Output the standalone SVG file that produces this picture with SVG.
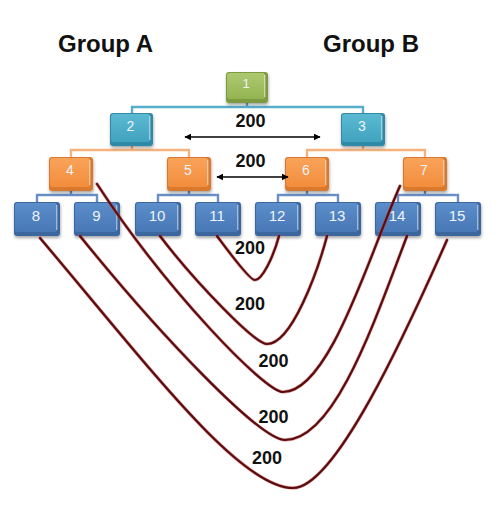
<svg xmlns="http://www.w3.org/2000/svg" xmlns:xlink="http://www.w3.org/1999/xlink" width="502" height="520" viewBox="0 0 502 520">
<style>
  .title{font-family:"Liberation Sans",Arial,sans-serif;font-weight:bold;font-size:24px;fill:#111}
  .dist{font-family:"Liberation Sans",Arial,sans-serif;font-weight:bold;font-size:18px;fill:#111;text-anchor:middle}
  .num{font-family:"Liberation Sans",Arial,sans-serif;font-size:14px;fill:#eef3fa;text-anchor:middle}
  .tl{fill:none;stroke-width:2.4;stroke-linecap:square}
  .teal-l{stroke:#57aecb}
  .orange-l{stroke:#f5b27c}
  .blue-l{stroke:#6890c6}
  .arrow{fill:none;stroke:#000;stroke-width:1.3;marker-start:url(#ah);marker-end:url(#ah)}
  .c-out{fill:none;stroke:#c94a4a;stroke-width:3.4;stroke-linecap:round;opacity:.55}
  .c-in{fill:none;stroke:#5a0c0e;stroke-width:2.2;stroke-linecap:round}
  .hl{fill:#ffffff;opacity:.45}
  .green .edge{fill:#7c9b3f}.green .face{fill:url(#gGreen)}
  .teal .edge{fill:#2f8aa6}.teal .face{fill:url(#gTeal)}
  .orange .edge{fill:#d8792f}.orange .face{fill:url(#gOrange)}
  .blue .edge{fill:#3a669e}.blue .face{fill:url(#gBlue)}
  .edge{filter:url(#sh)}
</style>
<defs>
  <linearGradient id="gGreen" x1="0" y1="0" x2="0" y2="1"><stop offset="0" stop-color="#adc970"/><stop offset="1" stop-color="#94b452"/></linearGradient>
  <linearGradient id="gTeal" x1="0" y1="0" x2="0" y2="1"><stop offset="0" stop-color="#5bb9d2"/><stop offset="1" stop-color="#42a3bf"/></linearGradient>
  <linearGradient id="gOrange" x1="0" y1="0" x2="0" y2="1"><stop offset="0" stop-color="#f9a35a"/><stop offset="1" stop-color="#f28d3c"/></linearGradient>
  <linearGradient id="gBlue" x1="0" y1="0" x2="0" y2="1"><stop offset="0" stop-color="#5b8dcb"/><stop offset="1" stop-color="#4878b5"/></linearGradient>
  <filter id="sh" x="-20%" y="-20%" width="140%" height="160%">
    <feDropShadow dx="0.5" dy="2" stdDeviation="1.5" flood-color="#000" flood-opacity="0.35"/>
  </filter>
  <marker id="ah" viewBox="0 0 10 10" refX="9" refY="5" markerWidth="7" markerHeight="7" markerUnits="userSpaceOnUse" orient="auto-start-reverse">
    <path d="M0,0 L10,5 L0,10 z" fill="#000"/>
  </marker>
  <path id="p1" d="M217,236 C226,248 250,281 255,280 C262,280 273,258 279,236"/>
  <path id="p2" d="M160,236 C195,282 255,344 267,344 C292,344 318,270 327,236"/>
  <path id="p3" d="M97,184 C167,291 265,392 283,392 C330,392 370,252 400,186"/>
  <path id="p4" d="M80,236 C160,335 260,440 285,440 C335,440 375,320 407,236"/>
  <path id="p5" d="M40,238 C150,368 240,488 293,488 C335,488 405,335 447,240"/>
</defs>

<text class="title" x="58" y="52">Group A</text>
<text class="title" x="323" y="52">Group B</text>

<g id="tree-connectors">
  <path class="tl teal-l" d="M247,103 V107 M132,113 V107 H363 V113"/>
  <path class="tl orange-l" d="M132,146 V150 M71,157 V150 H189 V157"/>
  <path class="tl orange-l" d="M363,146 V150 M307,157 V150 H425 V157"/>
  <path class="tl blue-l" d="M71,191 V195 M37,202 V195 H97 V202"/>
  <path class="tl blue-l" d="M189,191 V195 M158,202 V195 H218 V202"/>
  <path class="tl blue-l" d="M307,191 V195 M278,202 V195 H338 V202"/>
  <path class="tl blue-l" d="M425,191 V195 M398,202 V195 H458 V202"/>
</g>

<g id="node-1" class="green"><rect class="edge" x="226" y="72" width="42" height="31" rx="3"/><rect class="face" x="227" y="73" width="38" height="26" rx="2.5"/><rect class="hl" x="264" y="75" width="1.5" height="22"/><text class="num" x="246" y="88" style="font-size:13px">1</text></g>
<g id="node-2" class="teal"><rect class="edge" x="110" y="113" width="43" height="33" rx="3"/><rect class="face" x="111" y="114" width="39" height="28" rx="2.5"/><rect class="hl" x="149" y="116" width="1.5" height="24"/><text class="num" x="130.5" y="131">2</text></g>
<g id="node-3" class="teal"><rect class="edge" x="341" y="113" width="44" height="33" rx="3"/><rect class="face" x="342" y="114" width="40" height="28" rx="2.5"/><rect class="hl" x="381" y="116" width="1.5" height="24"/><text class="num" x="362" y="131">3</text></g>

<g id="node-4" class="orange"><rect class="edge" x="49" y="157" width="44" height="34" rx="3"/><rect class="face" x="50" y="158" width="40" height="29" rx="2.5"/><rect class="hl" x="89" y="160" width="1.5" height="25"/><text class="num" x="70" y="175">4</text></g>
<g id="node-5" class="orange"><rect class="edge" x="167" y="157" width="44" height="34" rx="3"/><rect class="face" x="168" y="158" width="40" height="29" rx="2.5"/><rect class="hl" x="207" y="160" width="1.5" height="25"/><text class="num" x="188" y="175">5</text></g>
<g id="node-6" class="orange"><rect class="edge" x="285" y="157" width="44" height="34" rx="3"/><rect class="face" x="286" y="158" width="40" height="29" rx="2.5"/><rect class="hl" x="325" y="160" width="1.5" height="25"/><text class="num" x="306" y="175">6</text></g>
<g id="node-7" class="orange"><rect class="edge" x="403" y="157" width="44" height="34" rx="3"/><rect class="face" x="404" y="158" width="40" height="29" rx="2.5"/><rect class="hl" x="443" y="160" width="1.5" height="25"/><text class="num" x="424" y="175">7</text></g>

<g id="node-8" class="blue"><rect class="edge" x="14" y="202" width="46" height="34" rx="3"/><rect class="face" x="15" y="203" width="42" height="29" rx="2.5"/><rect class="hl" x="56" y="205" width="1.5" height="25"/><text class="num" x="36" y="221" style="font-size:15px">8</text></g>
<g id="node-9" class="blue"><rect class="edge" x="74" y="202" width="46" height="34" rx="3"/><rect class="face" x="75" y="203" width="42" height="29" rx="2.5"/><rect class="hl" x="116" y="205" width="1.5" height="25"/><text class="num" x="96.5" y="221" style="font-size:15px">9</text></g>
<g id="node-10" class="blue"><rect class="edge" x="135" y="202" width="46" height="34" rx="3"/><rect class="face" x="136" y="203" width="42" height="29" rx="2.5"/><rect class="hl" x="177" y="205" width="1.5" height="25"/><text class="num" x="157" y="221" style="font-size:15px">10</text></g>
<g id="node-11" class="blue"><rect class="edge" x="195" y="202" width="46" height="34" rx="3"/><rect class="face" x="196" y="203" width="42" height="29" rx="2.5"/><rect class="hl" x="237" y="205" width="1.5" height="25"/><text class="num" x="217" y="221" style="font-size:15px">11</text></g>
<g id="node-12" class="blue"><rect class="edge" x="255" y="202" width="46" height="34" rx="3"/><rect class="face" x="256" y="203" width="42" height="29" rx="2.5"/><rect class="hl" x="297" y="205" width="1.5" height="25"/><text class="num" x="277" y="221" style="font-size:15px">12</text></g>
<g id="node-13" class="blue"><rect class="edge" x="315" y="202" width="46" height="34" rx="3"/><rect class="face" x="316" y="203" width="42" height="29" rx="2.5"/><rect class="hl" x="357" y="205" width="1.5" height="25"/><text class="num" x="337" y="221" style="font-size:15px">13</text></g>
<g id="node-14" class="blue"><rect class="edge" x="375" y="202" width="46" height="34" rx="3"/><rect class="face" x="376" y="203" width="42" height="29" rx="2.5"/><rect class="hl" x="417" y="205" width="1.5" height="25"/><text class="num" x="397" y="221" style="font-size:15px">14</text></g>
<g id="node-15" class="blue"><rect class="edge" x="435" y="202" width="46" height="34" rx="3"/><rect class="face" x="436" y="203" width="42" height="29" rx="2.5"/><rect class="hl" x="477" y="205" width="1.5" height="25"/><text class="num" x="457" y="221" style="font-size:15px">15</text></g>

<g id="distance-connectors">
  <line class="arrow" x1="185" y1="137" x2="320" y2="137"/>
  <line class="arrow" x1="217" y1="177" x2="288" y2="177"/>
  <use xlink:href="#p1" class="c-out"/><use xlink:href="#p1" class="c-in"/>
  <use xlink:href="#p2" class="c-out"/><use xlink:href="#p2" class="c-in"/>
  <use xlink:href="#p3" class="c-out"/><use xlink:href="#p3" class="c-in"/>
  <use xlink:href="#p4" class="c-out"/><use xlink:href="#p4" class="c-in"/>
  <use xlink:href="#p5" class="c-out"/><use xlink:href="#p5" class="c-in"/>
</g>

<g id="labels">
  <text class="dist" x="250.5" y="127">200</text>
  <text class="dist" x="250.5" y="167">200</text>
  <text class="dist" x="250" y="254">200</text>
  <text class="dist" x="250" y="310">200</text>
  <text class="dist" x="273.5" y="367">200</text>
  <text class="dist" x="273.5" y="423">200</text>
  <text class="dist" x="267" y="464">200</text>
</g>
</svg>
